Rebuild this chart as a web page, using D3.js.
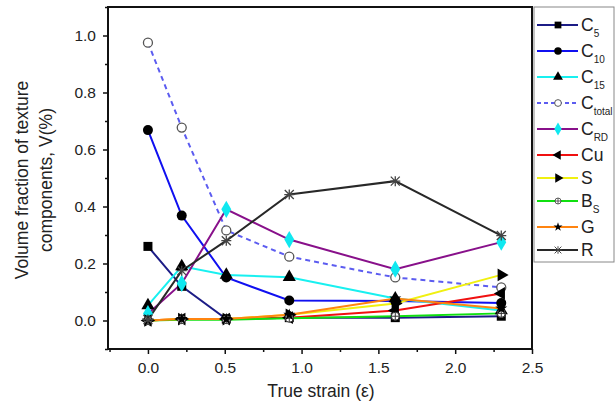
<!DOCTYPE html>
<html>
<head>
<meta charset="utf-8">
<script src="https://cdn.jsdelivr.net/npm/d3@7"></script>
<style>
  body { margin: 0; background: #fff; }
  text { font-family: Arial, "Liberation Sans", sans-serif; fill: #222; }
</style>
</head>
<body>
<div class="chart"></div>
<script>
// Data
var strain = [0, 0.22, 0.51, 0.92, 1.61, 2.3];

var c5 = [0.26, 0.12, 0.005, 0.01, 0.01, 0.015];
var c10 = [0.668, 0.368, 0.151, 0.07, 0.068, 0.061];
var c15 = [0.053, 0.19, 0.16, 0.152, 0.077, 0.035];
var cTotal = [0.975, 0.677, 0.316, 0.224, 0.151, 0.116];
var cRD = [0.024, 0.13, 0.39, 0.284, 0.18, 0.275];
var cu = [0, 0.005, 0.005, 0.01, 0.035, 0.095];
var s = [0, 0.005, 0.005, 0.02, 0.06, 0.16];
var bs = [0, 0.003, 0.003, 0.008, 0.015, 0.025];
var g = [0, 0.005, 0.005, 0.02, 0.077, 0.042];
var r = [0.003, 0.175, 0.28, 0.442, 0.489, 0.298];

var xTicks = [0, 0.5, 1.0, 1.5, 2.0, 2.5];
var yTicks = [0, 0.2, 0.4, 0.6, 0.8, 1.0];

// name, sub, values, line colour, marker
var series = [
  { name: "C", sub: "5", values: c5, color: "#1c1c86", marker: "square" },
  { name: "C", sub: "10", values: c10, color: "#1010f0", marker: "circle" },
  { name: "C", sub: "15", values: c15, color: "#18f0f0", marker: "triangle" },
  { name: "C", sub: "total", values: cTotal, color: "#5c5cf0", marker: "open", dash: "5,4" },
  { name: "C", sub: "RD", values: cRD, color: "#88108a", marker: "diamond" },
  { name: "Cu", sub: "", values: cu, color: "#f01010", marker: "left" },
  { name: "S", sub: "", values: s, color: "#f0f010", marker: "right" },
  { name: "B", sub: "S", values: bs, color: "#10e010", marker: "crosscircle" },
  { name: "G", sub: "", values: g, color: "#ff8410", marker: "star" },
  { name: "R", sub: "", values: r, color: "#282828", marker: "asterisk" }
];

// Step 0: chart setup
var svgWidth = 615;
var svgHeight = 404;
var plot = { left: 108, right: 532, top: 7, bottom: 349 };

var svg = d3.select(".chart")
  .append("svg")
  .attr("width", svgWidth)
  .attr("height", svgHeight);

var xScale = d3.scaleLinear().domain([-0.26, 2.5]).range([plot.left, plot.right]);
var yScale = d3.scaleLinear().domain([-0.1, 1.1]).range([plot.bottom, plot.top]);

// frame
svg.append("rect")
  .attr("x", plot.left)
  .attr("y", plot.top)
  .attr("width", plot.right - plot.left)
  .attr("height", plot.bottom - plot.top)
  .attr("fill", "none")
  .attr("stroke", "#111")
  .attr("stroke-width", 2);

// axes (major ticks with labels, minor ticks without)
var bottomAxis = d3.axisBottom(xScale).tickValues(xTicks).tickSize(5).tickPadding(8)
  .tickFormat(d3.format(".1f"));
var bottomMinor = d3.axisBottom(xScale).tickValues(d3.range(-0.25, 2.5, 0.5)).tickSize(3).tickFormat("");
var leftAxis = d3.axisLeft(yScale).tickValues(yTicks).tickSize(5).tickPadding(7)
  .tickFormat(d3.format(".1f"));
var leftMinor = d3.axisLeft(yScale).tickValues(d3.range(-0.1, 1.1, 0.2)).tickSize(3).tickFormat("");

[bottomAxis, bottomMinor].forEach(function(ax) {
  svg.append("g")
    .attr("class", "x-axis")
    .attr("transform", "translate(0," + plot.bottom + ")")
    .call(ax);
});
[leftAxis, leftMinor].forEach(function(ax) {
  svg.append("g")
    .attr("class", "y-axis")
    .attr("transform", "translate(" + plot.left + ",0)")
    .call(ax);
});
svg.selectAll(".x-axis path, .y-axis path").remove();
svg.selectAll(".x-axis line, .y-axis line").attr("stroke", "#111").attr("stroke-width", 1.5);
svg.selectAll(".x-axis text, .y-axis text")
  .style("font-family", "Arial, 'Liberation Sans', sans-serif")
  .style("font-size", "15.5px")
  .attr("fill", "#333");

// axis titles
svg.append("text")
  .attr("x", 321)
  .attr("y", 397)
  .attr("text-anchor", "middle")
  .style("font-size", "17.5px")
  .text("True strain (ε)");

var yTitle = svg.append("text")
  .attr("transform", "translate(28,180) rotate(-90)")
  .attr("text-anchor", "middle")
  .style("font-size", "17.5px");
yTitle.append("tspan").attr("x", 0).attr("dy", 0).text("Volume fraction of texture");
yTitle.append("tspan").attr("x", 0).attr("dy", 24).text("components, V(%)");

// marker drawing
function drawMarker(sel, type, color) {
  if (type === "square") {
    sel.append("rect").attr("x", -4.5).attr("y", -4.5).attr("width", 9).attr("height", 9).attr("fill", "#000");
  } else if (type === "circle") {
    sel.append("circle").attr("r", 5).attr("fill", "#000");
  } else if (type === "open") {
    sel.append("circle").attr("r", 4.5).attr("fill", "#fff").attr("stroke", "#555").attr("stroke-width", 1.3);
  } else if (type === "triangle") {
    sel.append("path").attr("d", d3.symbol(d3.symbolTriangle, 75)()).attr("fill", "#000");
  } else if (type === "left") {
    sel.append("path").attr("d", d3.symbol(d3.symbolTriangle, 70)()).attr("transform", "rotate(-90)").attr("fill", "#000");
  } else if (type === "right") {
    sel.append("path").attr("d", d3.symbol(d3.symbolTriangle, 70)()).attr("transform", "rotate(90)").attr("fill", "#000");
  } else if (type === "diamond") {
    sel.append("path").attr("d", d3.symbol(d3.symbolDiamond, 85)()).attr("fill", "#10e8f0");
  } else if (type === "crosscircle") {
    sel.append("circle").attr("r", 4).attr("fill", "#fff").attr("stroke", "#333").attr("stroke-width", 1);
    sel.append("path").attr("d", "M-4,0H4M0,-4V4").attr("stroke", "#333").attr("stroke-width", 1);
  } else if (type === "star") {
    sel.append("path").attr("d", d3.symbol(d3.symbolStar, 45)()).attr("fill", "#000");
  } else if (type === "asterisk") {
    sel.append("path")
      .attr("d", "M-4.5,-4.5L4.5,4.5M-4.5,4.5L4.5,-4.5M0,-5V5M-5,0H5")
      .attr("stroke", "#444").attr("stroke-width", 1.3);
  }
}

var line = d3.line()
  .x(function(d, i) { return xScale(strain[i]); })
  .y(function(d) { return yScale(d); });

var chart = svg.append("g");

series.forEach(function(sr) {
  chart.append("path")
    .datum(sr.values)
    .attr("d", line)
    .attr("fill", "none")
    .attr("stroke", sr.color)
    .attr("stroke-width", 2)
    .attr("stroke-dasharray", sr.dash || null);
});

series.forEach(function(sr) {
  chart.selectAll(null)
    .data(sr.values)
    .enter()
    .append("g")
    .attr("transform", function(d, i) {
      return "translate(" + xScale(strain[i]) + "," + yScale(d) + ")";
    })
    .each(function() { drawMarker(d3.select(this), sr.marker, sr.color); });
});

// legend
var legend = svg.append("g");
legend.append("rect")
  .attr("x", 534)
  .attr("y", 7)
  .attr("width", 80)
  .attr("height", 255)
  .attr("fill", "#fff")
  .attr("stroke", "#888")
  .attr("stroke-width", 1);

var ly = 25;
series.forEach(function(sr) {
  var item = legend.append("g").attr("transform", "translate(0," + ly + ")");
  item.append("line")
    .attr("x1", 537).attr("x2", 578)
    .attr("stroke", sr.color)
    .attr("stroke-width", 2)
    .attr("stroke-dasharray", sr.dash ? "4,3" : null);
  var m = item.append("g").attr("transform", "translate(558,0) scale(0.75)");
  drawMarker(m, sr.marker, sr.color);
  var t = item.append("text")
    .attr("x", 581)
    .attr("y", 6)
    .style("font-size", "17.5px")
    .text(sr.name);
  if (sr.sub) {
    t.append("tspan")
      .attr("dy", 6)
      .style("font-size", "10px")
      .text(sr.sub);
  }
  ly += sr.sub ? 26 : 23;
});
</script>
</body>
</html>
